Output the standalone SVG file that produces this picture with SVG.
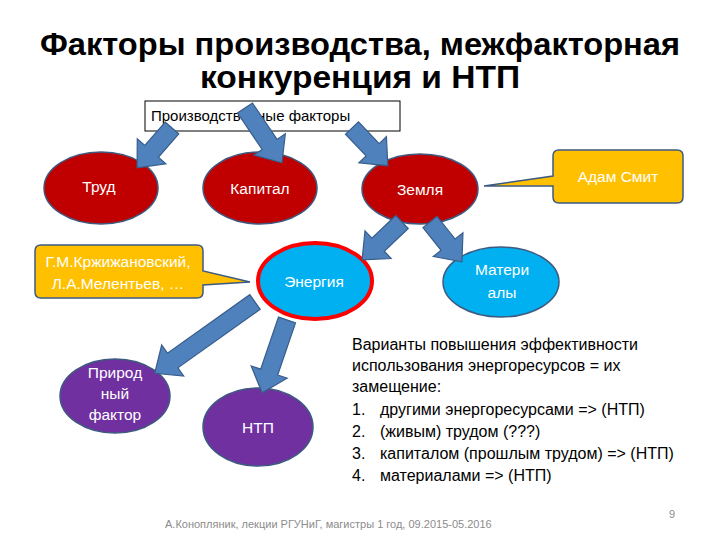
<svg xmlns="http://www.w3.org/2000/svg" width="720" height="540" viewBox="0 0 720 540">
<style>
text{font-family:"Liberation Sans",Arial,sans-serif}
.title{font-size:31px;font-weight:bold;fill:#000;text-anchor:middle}
.lbl{font-size:15.5px;fill:#fff;text-anchor:middle}
.red{fill:#C00000;stroke:#3D5A80;stroke-width:1.5}
.cyan{fill:#00B0F0;stroke:#3D5A80;stroke-width:1.5}
.pur{fill:#7030A0;stroke:#3D5A80;stroke-width:1.5}
.call{fill:#FFC000;stroke:#3D5A80;stroke-width:1.5}
.arr{fill:#4F81BD;stroke:#385D8A;stroke-width:1.2}
.body{font-size:16px;fill:#000}
</style>
<rect width="720" height="540" fill="#fff"/>
<g id="title">
<text class="title" x="360" y="55" textLength="640" lengthAdjust="spacingAndGlyphs">Факторы производства, межфакторная</text>
<text class="title" x="360" y="88" textLength="320" lengthAdjust="spacingAndGlyphs">конкуренция и НТП</text>
</g>
<g id="factors">
<rect x="145" y="101" width="255" height="30" fill="#fff" stroke="#000" stroke-width="1"/>
<text x="151" y="121" style="font-size:15px">Производственные факторы</text>
</g>
<g id="trud"><ellipse class="red" cx="101" cy="188" rx="57" ry="36"/><text class="lbl" x="99" y="192">Труд</text></g>
<g id="kapital"><ellipse class="red" cx="260" cy="188" rx="57" ry="36"/><text class="lbl" x="260" y="194">Капитал</text></g>
<g id="zemlya"><ellipse class="red" cx="420" cy="189" rx="58" ry="35"/><text class="lbl" x="420" y="195">Земля</text></g>
<g id="smith">
<path class="call" d="M559,150 H677 Q683,150 683,156 V197 Q683,203 677,203 H559 Q553,203 553,197 V186 L484,186 L553,176 V156 Q553,150 559,150 Z"/>
<text class="lbl" x="618" y="182">Адам Смит</text>
</g>
<g id="krzh">
<path class="call" d="M41,245 H197 Q203,245 203,251 V271 L250,282 L203,285 V292 Q203,298 197,298 H41 Q35,298 35,292 V251 Q35,245 41,245 Z"/>
<text class="lbl" x="118" y="267">Г.М.Кржижановский,</text>
<text class="lbl" x="118" y="289">Л.А.Мелентьев, …</text>
</g>
<g id="energiya"><ellipse cx="315" cy="281" rx="57" ry="38" fill="#00B0F0" stroke="#FF0000" stroke-width="4"/><text class="lbl" x="314" y="287">Энергия</text></g>
<g id="materialy"><ellipse class="cyan" cx="501" cy="282" rx="58" ry="35"/><text class="lbl" x="502" y="275">Матери</text><text class="lbl" x="502" y="298">алы</text></g>
<g id="prirod"><ellipse class="pur" cx="115" cy="396" rx="55" ry="37"/><text class="lbl" x="115" y="378">Природ</text><text class="lbl" x="115" y="399">ный</text><text class="lbl" x="115" y="420">фактор</text></g>
<g id="ntp"><ellipse class="pur" cx="258" cy="427" rx="55" ry="39"/><text class="lbl" x="258" y="433">НТП</text></g>
<g id="variants">
<text class="body" x="352" y="350">Варианты повышения эффективности</text>
<text class="body" x="352" y="371">использования энергоресурсов = их</text>
<text class="body" x="352" y="392">замещение:</text>
<text class="body" x="352" y="415">1.</text><text class="body" x="380" y="415">другими энергоресурсами =&gt; (НТП)</text>
<text class="body" x="352" y="437">2.</text><text class="body" x="380" y="437">(живым) трудом (???)</text>
<text class="body" x="352" y="459">3.</text><text class="body" x="380" y="459">капиталом (прошлым трудом) =&gt; (НТП)</text>
<text class="body" x="352" y="481">4.</text><text class="body" x="380" y="481">материалами =&gt; (НТП)</text>
</g>
<g id="footer">
<text x="165" y="528" style="font-size:11px;fill:#8C8C8C">А.Конопляник, лекции РГУНиГ, магистры 1 год, 09.2015-05.2016</text>
<text x="672" y="518" style="font-size:11px;fill:#8C8C8C" text-anchor="middle">9</text>
</g>
<g id="connectors">
<path class="arr" transform="translate(172,128) rotate(131.2)" d="M0,-9 L31,-9 L31,-19 L53,0 L31,19 L31,9 L0,9 Z"/>
<path class="arr" transform="translate(245,108) rotate(56)" d="M0,-9 L44,-9 L44,-19 L66,0 L44,19 L44,9 L0,9 Z"/>
<path class="arr" transform="translate(352,128) rotate(46.5)" d="M0,-9 L30,-9 L30,-19 L52,0 L30,19 L30,9 L0,9 Z"/>
<path class="arr" transform="translate(402,222) rotate(136.5)" d="M0,-9 L33,-9 L33,-19 L55,0 L33,19 L33,9 L0,9 Z"/>
<path class="arr" transform="translate(430,222) rotate(51.3)" d="M0,-9 L29,-9 L29,-19 L51,0 L29,19 L29,9 L0,9 Z"/>
<path class="arr" transform="translate(255,302) rotate(144.6)" d="M0,-9 L101,-9 L101,-19 L123,0 L101,19 L101,9 L0,9 Z"/>
<path class="arr" transform="translate(287,320) rotate(108.9)" d="M0,-9 L55,-9 L55,-19 L77,0 L55,19 L55,9 L0,9 Z"/>
</g>
</svg>
